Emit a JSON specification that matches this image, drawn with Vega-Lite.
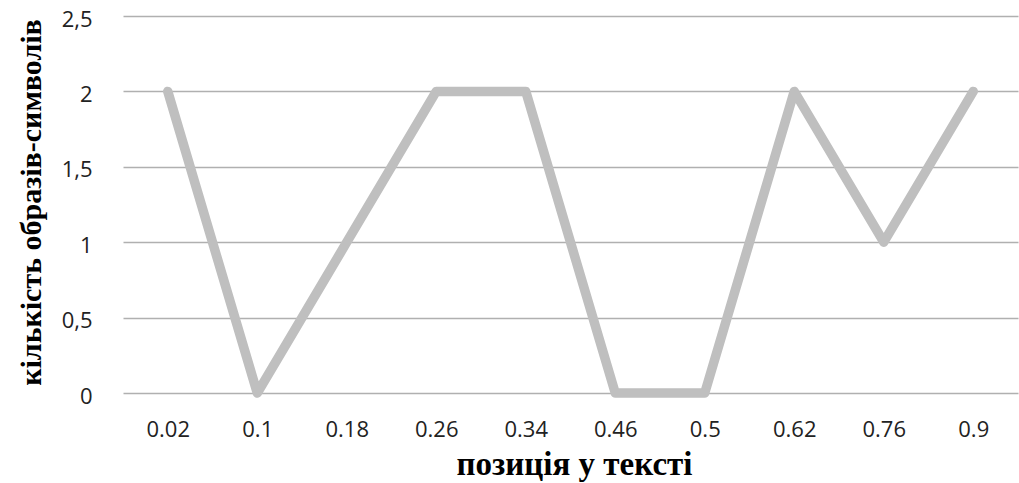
{
  "$schema": "https://vega.github.io/schema/vega-lite/v6.json",
  "autosize": "none",
  "width": 895,
  "height": 377,
  "padding": {"left": 123, "top": 16, "right": 1, "bottom": 90},
  "background": "white",
  "data": {
    "values": [
      {"pos": "0.02", "count": 2},
      {"pos": "0.1", "count": 0},
      {"pos": "0.18", "count": 1},
      {"pos": "0.26", "count": 2},
      {"pos": "0.34", "count": 2},
      {"pos": "0.46", "count": 0},
      {"pos": "0.5", "count": 0},
      {"pos": "0.62", "count": 2},
      {"pos": "0.76", "count": 1},
      {"pos": "0.9", "count": 2}
    ]
  },
  "mark": {"type": "line", "color": "#bfbfbf", "strokeWidth": 9.5, "strokeCap": "round", "strokeJoin": "round"},
  "encoding": {
    "x": {
      "field": "pos",
      "type": "ordinal",
      "sort": null,
      "scale": {"type": "point", "padding": 0.5},
      "axis": {
        "title": "позиція у тексті",
        "titleFont": "Liberation Serif",
        "titleFontSize": 33,
        "titleFontWeight": "bold",
        "titleColor": "black",
        "titleBaseline": "alphabetic",
        "titleY": 81,
        "titleX": 451,
        "labelAngle": 0,
        "labelFont": "Open Sans",
        "labelFontSize": 22,
        "labelColor": "#222",
        "labelBaseline": "alphabetic",
        "labelPadding": 43,
        "domain": false,
        "ticks": false,
        "grid": false
      }
    },
    "y": {
      "field": "count",
      "type": "quantitative",
      "scale": {"domain": [0, 2.5], "nice": false},
      "axis": {
        "title": "кількість образів-символів",
        "titleFont": "Liberation Serif",
        "titleFontSize": 30,
        "titleFontWeight": "bold",
        "titleColor": "black",
        "titleAngle": -90,
        "titleAlign": "center",
        "titleBaseline": "alphabetic",
        "titleX": -83,
        "titleY": 186,
        "values": [0, 0.5, 1, 1.5, 2, 2.5],
        "labelExpr": "replace(format(datum.value, '~g'), '.', ',')",
        "labelFont": "Open Sans",
        "labelFontSize": 22,
        "labelColor": "#222",
        "labelPadding": 31,
        "labelBaseline": "alphabetic",
        "labelOffset": 10,
        "domain": false,
        "ticks": false,
        "grid": true,
        "gridColor": "#b0b0b0",
        "gridWidth": 1.5
      }
    }
  },
  "config": {"view": {"stroke": null}}
}
